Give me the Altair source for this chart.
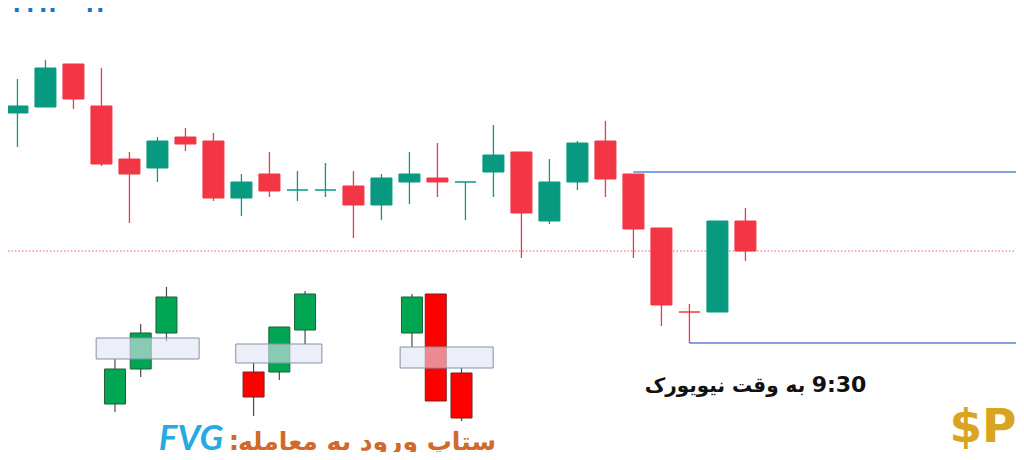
import altair as alt
import pandas as pd

# ---- main candlestick series (price units, candle index) ----
idx = list(range(27))
opn = [347, 353, 396, 354, 301, 292, 323, 319, 262, 286, 270, 270, 274, 255, 278, 282, 278, 288, 308, 239, 278, 319, 286, 232, 148, 148, 239]
high = [381, 400, 396, 392, 308, 323, 332, 327, 286, 308, 289, 297, 289, 286, 308, 317, 278, 335, 308, 301, 319, 339, 286, 232, 156, 239, 252]
low = [313, 353, 351, 294, 237, 278, 309, 259, 244, 263, 259, 263, 222, 240, 256, 263, 240, 263, 202, 236, 270, 263, 202, 134, 117, 148, 199]
cls = [354, 392, 361, 296, 286, 319, 316, 262, 278, 269, 270, 270, 255, 282, 286, 278, 278, 305, 247, 278, 317, 281, 231, 155, 148, 239, 209]
dirs = ["up", "up", "down", "down", "down", "up", "down", "down", "up", "down", "up", "up", "down", "up", "up", "down",
        "up", "up", "down", "up", "up", "down", "down", "down", "down", "up", "down"]

# ---- key levels ----
level_price = [288, 117]
level_start = [22, 24]
dotted_level = [209]

# ---- FVG illustration candles ----
ins_x = [3.483, 4.402, 5.322, 8.433, 9.353, 10.272, 14.09, 14.94, 15.86]
ins_o = [56, 91, 127, 88, 88, 130, 127, 166, 87]
ins_h = [101, 136, 173, 97, 133, 169, 166, 166, 92]
ins_l = [48, 83, 119, 44, 80, 116, 113, 59, 39]
ins_c = [91, 127, 163, 63, 133, 166, 163, 59, 42]
ins_dir = ["up", "up", "up", "down", "up", "up", "up", "down", "down"]

box_x0 = [2.811, 7.797, 13.667]
box_x1 = [6.489, 10.873, 16.99]
box_lo = [101, 97, 92]
box_hi = [122, 116, 113]

GREEN = "#089981"
RED = "#F23645"

main = pd.DataFrame({"i": idx, "o": opn, "h": high, "l": low, "c": cls, "dir": dirs})
ins = pd.DataFrame({"i": ins_x, "o": ins_o, "h": ins_h, "l": ins_l, "c": ins_c, "dir": ins_dir})
boxes = pd.DataFrame({"x0": box_x0, "x1": box_x1, "lo": box_lo, "hi": box_hi})
levels = pd.DataFrame({"p": level_price, "s": level_start})
dotted = pd.DataFrame({"p": dotted_level})

xs = alt.Scale(domain=[-0.159, 35.485], nice=False, zero=False)
ys = alt.Scale(domain=[8, 452], nice=False, zero=False)

W, H = 1008, 444

dot = alt.Chart(dotted).mark_rule(color="#e45c6c", strokeWidth=1, strokeDash=[1.5, 2]).encode(
    y=alt.Y("p:Q", scale=ys, axis=None), x=alt.value(0), x2=alt.value(W))

lv = alt.Chart(levels).mark_rule(color="#5b7fd8", strokeWidth=1.4).encode(
    y=alt.Y("p:Q", scale=ys, axis=None), x=alt.X("s:Q", scale=xs, axis=None), x2=alt.value(W))

col = alt.condition("datum.dir == 'up'", alt.value(GREEN), alt.value(RED))
wick = alt.Chart(main).mark_rule(strokeWidth=1.3).encode(
    x=alt.X("i:Q", scale=xs, axis=None), y=alt.Y("l:Q", scale=ys, axis=None), y2="h:Q", color=col)
body = alt.Chart(main).mark_bar(size=21, strokeWidth=1).encode(
    x=alt.X("i:Q", scale=xs, axis=None), y=alt.Y("o:Q", scale=ys, axis=None), y2="c:Q",
    color=col, stroke=col)

iwick = alt.Chart(ins).mark_rule(strokeWidth=1.2, color="#4a4a4a").encode(
    x=alt.X("i:Q", scale=xs, axis=None), y=alt.Y("l:Q", scale=ys, axis=None), y2="h:Q")
ibody = alt.Chart(ins).mark_bar(size=21, strokeWidth=1).encode(
    x=alt.X("i:Q", scale=xs, axis=None), y=alt.Y("o:Q", scale=ys, axis=None), y2="c:Q",
    color=alt.condition("datum.dir == 'up'", alt.value("#00a651"), alt.value("#ff0000")),
    stroke=alt.condition("datum.dir == 'up'", alt.value("#1f5f38"), alt.value("#7a1f1f")))
ibox = alt.Chart(boxes).mark_rect(fill="#dfe5f3", fillOpacity=0.6, stroke="#8391ab", strokeWidth=1).encode(
    x=alt.X("x0:Q", scale=xs, axis=None), x2="x1:Q", y=alt.Y("lo:Q", scale=ys, axis=None), y2="hi:Q")

one = pd.DataFrame({"k": [0]})


def label(txt, x, y, size, color, font="DejaVu Sans", weight="bold", style="normal", align="center", baseline="middle"):
    return alt.Chart(one).mark_text(text=txt, font=font, fontSize=size, fontWeight=weight, fontStyle=style,
                                    color=color, align=align, baseline=baseline).encode(
        x=alt.value(x), y=alt.value(y))


t_time = label("9:30", 831, 377, 22, "#111111")
t_ny = label("به وقت نیویورک", 717, 378, 20, "#111111")
t_fvg = label("FVG", 183, 442, 35, "#27a9e1", font="Lato", style="italic", baseline="alphabetic")
t_colon = label(":", 226, 442, 26, "#d0692a", baseline="alphabetic")
t_title = label("ستاپ ورود به معامله", 359, 442, 25, "#d0692a", baseline="alphabetic")
t_logo = label("$P", 975, 434, 47, "#d9a521", baseline="alphabetic")
t_top = label("۲۲:۲۰ ۱۴۰۰", 4, 4, 22, "#1e73c8", align="left", baseline="alphabetic")

chart = alt.layer(dot, lv, wick, body, iwick, ibody, ibox, t_time, t_ny, t_fvg, t_colon, t_title, t_logo, t_top).properties(
    width=W, height=H, autosize=alt.AutoSizeParams(type="none"), padding=0, background="white"
).configure_view(stroke=None, strokeWidth=0)

chart.save("out.html", embed_options={"renderer": "svg", "actions": False})
